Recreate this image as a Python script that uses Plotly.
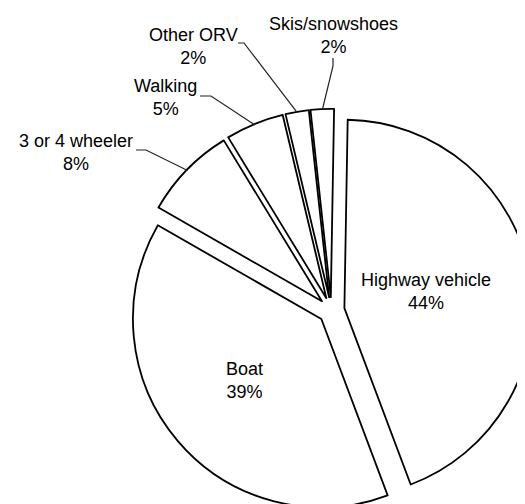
import math
import plotly.graph_objects as go

# ---- data ----
labels = ["Highway vehicle", "Boat", "3 or 4 wheeler", "Walking", "Other ORV", "Skis/snowshoes"]
values = [44, 39, 8, 5, 2, 2]

# ---- layout constants ----
W, H = 525, 504
DOM_X = [0.232, 1.0]
DOM_Y = [0.0, 0.8]
PULL = 0.07
ROT = 1.0
FONT = "Liberation Sans, Arial, sans-serif"

# label text centres (pixels)
label_pos = {
    "Highway vehicle": (418, 283),
    "Boat": (236, 372),
    "3 or 4 wheeler": (68, 144),
    "Walking": (157, 89),
    "Other ORV": (185, 39),
    "Skis/snowshoes": (325, 27),
}
# leader-line points near the label (pixels), from label end toward elbow
leader_elbow = {
    "3 or 4 wheeler": [(128, 142), (138, 142)],
    "Walking": [(192, 88), (203, 88)],
    "Other ORV": [(230, 35), (236, 35)],
    "Skis/snowshoes": [(325, 50), (325, 58)],
}

fig = go.Figure(go.Pie(
    labels=labels,
    values=values,
    sort=False,
    direction="clockwise",
    rotation=ROT,
    pull=PULL,
    domain=dict(x=DOM_X, y=DOM_Y),
    marker=dict(colors=["white"] * len(values), line=dict(color="black", width=1.8)),
    textinfo="none",
    hoverinfo="skip",
    showlegend=False,
))

# pie geometry (mirrors plotly's own layout of the pie)
cx = W * (DOM_X[0] + DOM_X[1]) / 2
cy = H * (1 - (DOM_Y[0] + DOM_Y[1]) / 2)
r = min(W * (DOM_X[1] - DOM_X[0]), H * (DOM_Y[1] - DOM_Y[0])) / 2 / (1 + PULL)
total = sum(values)


def px2paper(p):
    return (p[0] / W, 1 - p[1] / H)


annotations = []
shapes = []
cum = 0
for lab, v in zip(labels, values):
    mid = math.radians(ROT + 360 * (cum + v / 2) / total)
    cum += v
    ax = cx + PULL * r * math.sin(mid)
    ay = cy - PULL * r * math.cos(mid)
    arc = (ax + (r - 1) * math.sin(mid), ay - (r - 1) * math.cos(mid))
    tx, ty = label_pos[lab]
    annotations.append(dict(
        x=tx / W, y=1 - ty / H, xref="paper", yref="paper",
        text=f"{lab}<br>{v}%", showarrow=False,
        xanchor="center", yanchor="middle", align="center",
        font=dict(family=FONT, size=18, color="black"),
    ))
    if lab in leader_elbow:
        pts = [px2paper(p) for p in leader_elbow[lab]] + [px2paper(arc)]
        path = "M " + " L ".join(f"{x:.5f},{y:.5f}" for x, y in pts)
        shapes.append(dict(type="path", xref="paper", yref="paper", path=path,
                           line=dict(color="#222", width=1.2), layer="above"))

fig.update_layout(
    width=W, height=H,
    margin=dict(l=0, r=0, t=0, b=0),
    paper_bgcolor="white", plot_bgcolor="white",
    annotations=annotations,
    shapes=shapes,
    showlegend=False,
)

fig.write_html("out.html")
